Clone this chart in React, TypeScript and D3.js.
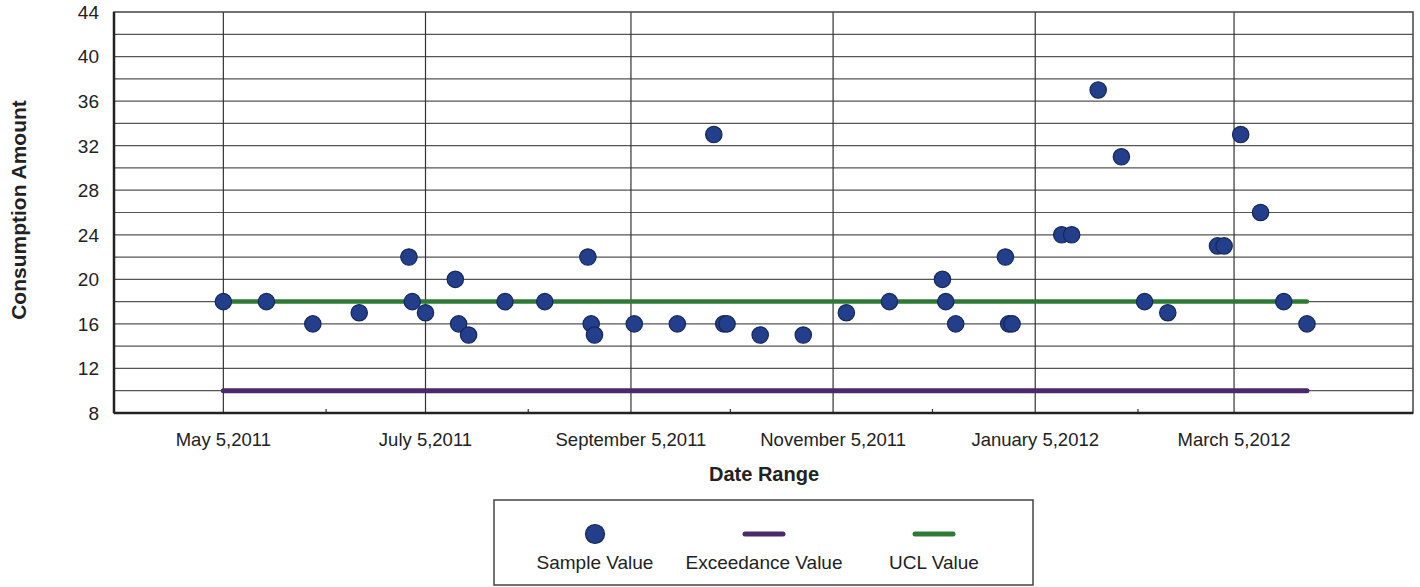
import React, { useEffect, useRef } from 'react';
import * as d3 from 'd3';

// sample dates and consumption values
const sampleDates = [
  '2011-05-05', '2011-05-18', '2011-06-01', '2011-06-15', '2011-06-30', '2011-07-01',
  '2011-07-05', '2011-07-14', '2011-07-15', '2011-07-18', '2011-07-29', '2011-08-10',
  '2011-08-23', '2011-08-24', '2011-08-25', '2011-09-06', '2011-09-19', '2011-09-30',
  '2011-10-03', '2011-10-04', '2011-10-14', '2011-10-27', '2011-11-09', '2011-11-22',
  '2011-12-08', '2011-12-09', '2011-12-12', '2011-12-27', '2011-12-28', '2011-12-29',
  '2012-01-13', '2012-01-16', '2012-01-24', '2012-01-31', '2012-02-07', '2012-02-14',
  '2012-02-29', '2012-03-02', '2012-03-07', '2012-03-13', '2012-03-20', '2012-03-27'
];
const sampleValues = [
  18, 18, 16, 17, 22, 18,
  17, 20, 16, 15, 18, 18,
  22, 16, 15, 16, 16, 33,
  16, 16, 15, 15, 17, 18,
  20, 18, 16, 22, 16, 16,
  24, 24, 37, 31, 18, 17,
  23, 23, 33, 26, 18, 16
];
const exceedanceValue = 10;
const uclValue = 18;

const xDomain = ['2011-04-02', '2012-04-28'];
const majorTickDates = ['2011-05-05', '2011-07-05', '2011-09-05', '2011-11-05', '2012-01-05', '2012-03-05'];
const majorTickLabels = ['May 5,2011', 'July 5,2011', 'September 5,2011', 'November 5,2011', 'January 5,2012', 'March 5,2012'];
const minorTickDates = ['2011-06-05', '2011-08-05', '2011-10-05', '2011-12-05', '2012-02-05'];
const yLabelTicks = [8, 12, 16, 20, 24, 28, 32, 36, 40, 44];

const FONT = '"Liberation Sans", Arial, sans-serif';

const App: React.FC = () => {
  const ref = useRef<SVGSVGElement>(null);

  useEffect(() => {
    if (!ref.current) return;
    const parse = d3.timeParse('%Y-%m-%d');
    const svg = d3.select(ref.current);
    svg.selectAll('*').remove();

    const left = 114, right = 1413, top = 12, bottom = 413;

    const x = d3.scaleTime()
      .domain(xDomain.map(d => parse(d) as Date))
      .range([left, right]);
    const y = d3.scaleLinear().domain([8, 44]).range([bottom, top]);

    const points = sampleDates.map((d, i) => ({ date: parse(d) as Date, value: sampleValues[i] }));

    svg.append('rect')
      .attr('width', 1420).attr('height', 587).attr('fill', '#fff');

    // horizontal grid every 2 units
    svg.append('g')
      .selectAll('line')
      .data(d3.range(10, 44, 2))
      .join('line')
      .attr('x1', left).attr('x2', right)
      .attr('y1', d => y(d)).attr('y2', d => y(d))
      .attr('stroke', '#555').attr('stroke-width', 1.2);

    // vertical grid at major dates
    svg.append('g')
      .selectAll('line')
      .data(majorTickDates)
      .join('line')
      .attr('x1', d => x(parse(d) as Date)).attr('x2', d => x(parse(d) as Date))
      .attr('y1', top).attr('y2', bottom)
      .attr('stroke', '#333').attr('stroke-width', 1.2);

    // minor ticks on bottom axis
    svg.append('g')
      .selectAll('line')
      .data(minorTickDates)
      .join('line')
      .attr('x1', d => x(parse(d) as Date)).attr('x2', d => x(parse(d) as Date))
      .attr('y1', bottom - 4).attr('y2', bottom)
      .attr('stroke', '#333').attr('stroke-width', 1.2);

    // plot frame
    svg.append('rect')
      .attr('x', left).attr('y', top)
      .attr('width', right - left).attr('height', bottom - top)
      .attr('fill', 'none').attr('stroke', '#444').attr('stroke-width', 1.5);
    svg.append('line')
      .attr('x1', left).attr('x2', left).attr('y1', top).attr('y2', bottom)
      .attr('stroke', '#222').attr('stroke-width', 2.5);
    svg.append('line')
      .attr('x1', left).attr('x2', right).attr('y1', bottom).attr('y2', bottom)
      .attr('stroke', '#222').attr('stroke-width', 2.5);

    // y labels
    svg.append('g')
      .selectAll('text')
      .data(yLabelTicks)
      .join('text')
      .attr('x', 99).attr('y', d => y(d))
      .attr('dy', '0.36em')
      .attr('text-anchor', 'end')
      .style('font-family', FONT).style('font-size', '19px').attr('fill', '#222')
      .text(d => d);

    // x labels
    svg.append('g')
      .selectAll('text')
      .data(majorTickDates)
      .join('text')
      .attr('x', d => x(parse(d) as Date)).attr('y', 446)
      .attr('text-anchor', 'middle')
      .style('font-family', FONT).style('font-size', '18.5px').attr('fill', '#222')
      .text((d, i) => majorTickLabels[i]);

    // axis titles
    svg.append('text')
      .attr('x', 764).attr('y', 481)
      .attr('text-anchor', 'middle')
      .style('font-family', FONT).style('font-size', '20px').style('font-weight', 'bold')
      .attr('fill', '#222')
      .text('Date Range');
    svg.append('text')
      .attr('transform', 'translate(26,210) rotate(-90)')
      .attr('text-anchor', 'middle')
      .style('font-family', FONT).style('font-size', '21px').style('font-weight', 'bold')
      .attr('fill', '#222')
      .text('Consumption Amount');

    // exceedance and UCL lines
    const first = points[0].date, last = points[points.length - 1].date;
    const lines = [
      { value: exceedanceValue, color: '#4b2a6b', width: 5 },
      { value: uclValue, color: '#2e7a34', width: 4.5 }
    ];
    lines.forEach(l => {
      svg.append('line')
        .attr('x1', x(first)).attr('x2', x(last))
        .attr('y1', y(l.value)).attr('y2', y(l.value))
        .attr('stroke', l.color).attr('stroke-width', l.width)
        .attr('stroke-linecap', 'round');
    });

    // sample points
    svg.append('g')
      .selectAll('circle')
      .data(points)
      .join('circle')
      .attr('cx', d => x(d.date)).attr('cy', d => y(d.value))
      .attr('r', 8.2)
      .attr('fill', '#233f8c').attr('stroke', '#162758').attr('stroke-width', 1.2);

    // legend
    const legend = svg.append('g');
    legend.append('rect')
      .attr('x', 494).attr('y', 500).attr('width', 539).attr('height', 85)
      .attr('fill', '#fff').attr('stroke', '#444').attr('stroke-width', 1.5);
    const items = [
      { label: 'Sample Value', cx: 595, kind: 'dot', color: '#233f8c' },
      { label: 'Exceedance Value', cx: 764, kind: 'line', color: '#4b2a6b' },
      { label: 'UCL Value', cx: 934, kind: 'line', color: '#2e7a34' }
    ];
    items.forEach(it => {
      if (it.kind === 'dot') {
        legend.append('circle')
          .attr('cx', it.cx).attr('cy', 534).attr('r', 9.5)
          .attr('fill', it.color).attr('stroke', '#162758').attr('stroke-width', 1.2);
      } else {
        legend.append('line')
          .attr('x1', it.cx - 19).attr('x2', it.cx + 19)
          .attr('y1', 534).attr('y2', 534)
          .attr('stroke', it.color).attr('stroke-width', 5)
          .attr('stroke-linecap', 'round');
      }
      legend.append('text')
        .attr('x', it.cx).attr('y', 569)
        .attr('text-anchor', 'middle')
        .style('font-family', FONT).style('font-size', '19px').attr('fill', '#222')
        .text(it.label);
    });
  }, []);

  return (
    <svg ref={ref} width={1420} height={587}
      style={{ position: 'absolute', left: 0, top: 0, display: 'block' }} />
  );
};

export default App;
